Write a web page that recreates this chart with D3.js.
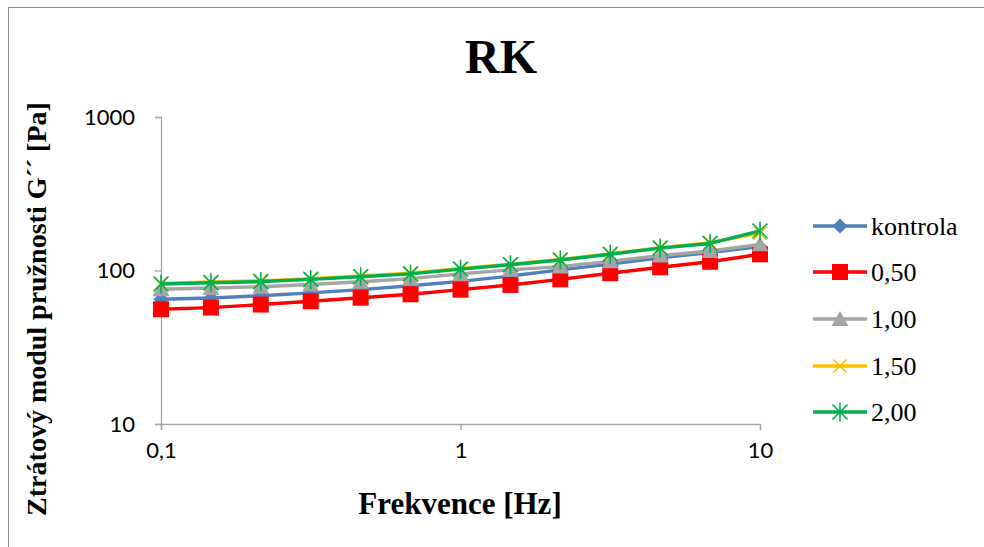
<!DOCTYPE html>
<html>
<head>
<meta charset="utf-8">
<script src="https://cdn.jsdelivr.net/npm/d3@7"></script>
<style>
  body { margin: 0; background: #fff; }
</style>
</head>
<body>
<div id="chart"></div>
<script>
// Data
var frequency = [0.1, 0.1468, 0.2154, 0.3162, 0.4642, 0.6813, 1, 1.468, 2.154, 3.162, 4.642, 6.813, 10];
var seriesNames = ["kontrola", "0,50", "1,00", "1,50", "2,00"];
var kontrola = [64.9, 66.2, 68.5, 71.5, 75, 79.5, 85, 92, 101, 110, 121, 131, 143];
var c050 = [55.9, 57.3, 60, 63, 66.5, 70, 75, 80.5, 87.6, 96, 105, 114, 127.5];
var c100 = [75.4, 76.9, 78.4, 81, 84.5, 88.5, 95, 101, 106, 115, 125, 134, 148];
var c150 = [82.4, 84.1, 85.6, 88.4, 92, 96, 103, 110, 118, 128.5, 141, 152, 175];
var c200 = [81.6, 83.3, 84.7, 87.5, 91, 95, 102, 109, 117, 127.5, 140, 150, 181];
var xTicks = [0.1, 1, 10];
var yTicks = [10, 100, 1000];

var seriesValues = [kontrola, c050, c100, c150, c200];
var colors = ["#4F81BD", "#FF0000", "#A5A5A5", "#FFC000", "#00B050"];
var markers = ["diamond", "square", "triangle", "x", "star"];

var serif = "'Liberation Serif', 'Times New Roman', serif";
var sans = "Lato, 'Liberation Sans', sans-serif";

var svgWidth = 984;
var svgHeight = 547;

var svg = d3.select("#chart")
  .append("svg")
  .attr("width", svgWidth)
  .attr("height", svgHeight);

// outer chart frame
svg.append("rect")
  .attr("x", 8.5)
  .attr("y", 7.5)
  .attr("width", 1000)
  .attr("height", 600)
  .attr("fill", "none")
  .attr("stroke", "#8c8c8c");

var xScale = d3.scaleLog().domain([0.1, 10]).range([161, 760]);
var yScale = d3.scaleLog().domain([10, 1000]).range([424, 117]);

var fmt = function(v) { return String(v).replace(".", ","); };

// axes
var xAxis = svg.append("g")
  .attr("transform", "translate(0,424)")
  .call(d3.axisBottom(xScale).tickValues(xTicks).tickSize(6).tickFormat(fmt));
var yAxis = svg.append("g")
  .attr("transform", "translate(161,0)")
  .call(d3.axisLeft(yScale).tickValues(yTicks).tickSize(6).tickFormat(fmt));

[xAxis, yAxis].forEach(function(a) {
  a.select(".domain").attr("stroke", "#A6A6A6").attr("stroke-width", 1.3);
  a.selectAll(".tick line").attr("stroke", "#A6A6A6").attr("stroke-width", 1.3);
  a.selectAll(".tick text")
    .attr("fill", "#000")
    .style("font-family", sans)
    .style("font-size", "22px");
});
xAxis.selectAll(".tick text").attr("y", 18);
yAxis.selectAll(".tick text").attr("x", -26);

// marker shapes
function markerPath(type) {
  if (type === "diamond") return "M0,-7.5L7.5,0L0,7.5L-7.5,0Z";
  if (type === "square") return "M-8,-8H8V8H-8Z";
  if (type === "triangle") return "M0,-8L8.5,7H-8.5Z";
  if (type === "x") return "M-6.5,-6.5L6.5,6.5M-6.5,6.5L6.5,-6.5";
  return "M-7.5,-7.5L7.5,7.5M-7.5,7.5L7.5,-7.5M0,-9.5V9.5";
}

function drawMarker(g, type, color) {
  var p = g.append("path").attr("d", markerPath(type));
  if (type === "x" || type === "star") {
    p.attr("fill", "none").attr("stroke", color).attr("stroke-width", 1.6);
  } else {
    p.attr("fill", color).attr("stroke", "none");
  }
}

var line = d3.line()
  .x(function(d) { return xScale(d.f); })
  .y(function(d) { return yScale(d.v); });

seriesValues.forEach(function(vals, i) {
  var pts = frequency.map(function(f, j) { return { f: f, v: vals[j] }; });
  var g = svg.append("g");
  g.append("path")
    .datum(pts)
    .attr("d", line)
    .attr("fill", "none")
    .attr("stroke", colors[i])
    .attr("stroke-width", 3.4)
    .attr("stroke-linejoin", "round");
  pts.forEach(function(p) {
    var m = g.append("g")
      .attr("transform", "translate(" + xScale(p.f) + "," + yScale(p.v) + ")");
    drawMarker(m, markers[i], colors[i]);
  });
});

// title
svg.append("text")
  .attr("x", 501)
  .attr("y", 73)
  .attr("text-anchor", "middle")
  .style("font-family", serif)
  .style("font-weight", "bold")
  .style("font-size", "48px")
  .text("RK");

// x axis title
svg.append("text")
  .attr("x", 460)
  .attr("y", 514)
  .attr("text-anchor", "middle")
  .style("font-family", serif)
  .style("font-weight", "bold")
  .style("font-size", "31px")
  .text("Frekvence [Hz]");

// y axis title
svg.append("text")
  .attr("transform", "translate(46,309) rotate(-90)")
  .attr("text-anchor", "middle")
  .style("font-family", serif)
  .style("font-weight", "bold")
  .style("font-size", "28px")
  .text("Ztrátový modul pružnosti G´´ [Pa]");

// legend
var legendY = [226, 272, 319, 366, 412];
seriesNames.forEach(function(name, i) {
  var g = svg.append("g").attr("transform", "translate(0," + legendY[i] + ")");
  g.append("line")
    .attr("x1", 813).attr("x2", 867)
    .attr("stroke", colors[i])
    .attr("stroke-width", 3.4);
  var m = g.append("g").attr("transform", "translate(840,0)");
  drawMarker(m, markers[i], colors[i]);
  g.append("text")
    .attr("x", 871)
    .attr("y", 9)
    .style("font-family", serif)
    .style("font-size", "26px")
    .text(name);
});
</script>
</body>
</html>
